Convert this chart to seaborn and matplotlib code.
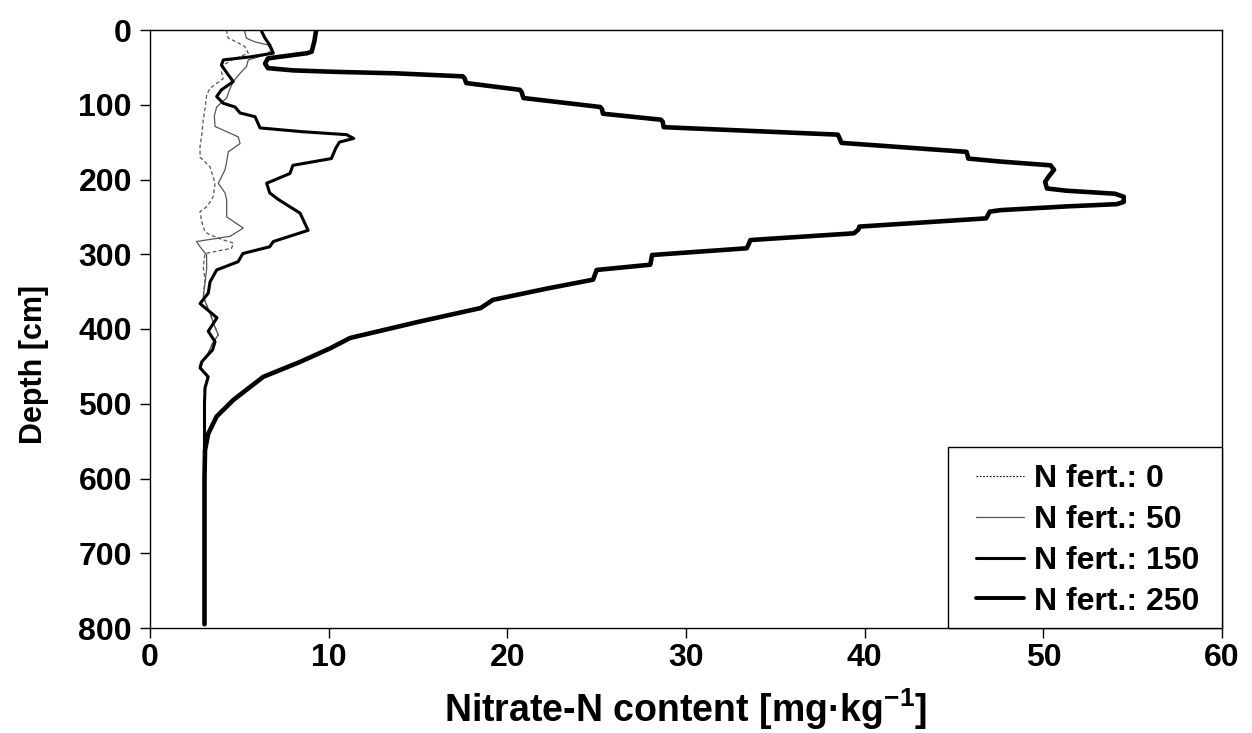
import matplotlib
matplotlib.use("Agg")
import matplotlib.pyplot as plt
import seaborn as sns
import pandas as pd
from matplotlib.lines import Line2D
from matplotlib.patches import Rectangle

# ---------------- data ----------------
labels = ["N fert.: 0", "N fert.: 50", "N fert.: 150", "N fert.: 250"]

depth0 = [0, 2, 11, 16, 22, 31, 40, 47, 56, 65, 78, 87, 105, 120, 140, 156, 170, 183, 205, 223,
          236, 243, 257, 270, 274, 280, 285, 292, 299, 317, 334, 357, 379, 395, 408, 419, 430, 444,
          452, 464, 479, 500, 600, 700, 795]
n0 = [4.29, 4.29, 4.38, 4.85, 5.3, 5.5, 4.6, 4.1, 4.0, 4.1, 3.36, 3.17, 3.08, 2.98, 2.9, 2.8, 2.8,
      3.36, 3.64, 3.54, 3.2, 2.8, 2.9, 3.08, 3.36, 4.0, 4.66, 4.57, 3.08, 2.98, 3.08, 2.98, 3.36,
      3.6, 3.82, 3.5, 3.3, 2.95, 2.85, 3.2, 3.05, 3.05, 3.05, 3.05, 3.05]

depth50 = [0, 2, 11, 16, 20, 27, 33, 40, 49, 58, 69, 80, 91, 103, 115, 129, 143, 152, 163, 175,
           187, 205, 218, 227, 250, 265, 276, 283, 290, 301, 320, 334, 357, 379, 395, 408, 419,
           430, 444, 452, 464, 479, 500, 600, 700, 795]
n50 = [5.3, 5.3, 5.4, 5.88, 6.6, 6.8, 6.5, 5.5, 5.4, 5.04, 4.66, 4.45, 4.29, 3.73, 3.6, 3.64, 4.94,
       5.04, 4.38, 4.3, 4.2, 3.82, 4.2, 4.29, 4.29, 5.22, 4.48, 2.6, 2.8, 3.17, 3.17, 3.1, 2.98,
       3.36, 3.6, 3.82, 3.5, 3.3, 2.95, 2.85, 3.2, 3.05, 3.05, 3.05, 3.05, 3.05]

depth150 = [0, 2, 11, 20, 31, 36, 40, 47, 60, 69, 80, 89, 98, 103, 111, 116, 131, 136, 140, 145,
            150, 158, 172, 181, 192, 205, 218, 227, 245, 268, 283, 290, 299, 310, 321, 337, 352,
            366, 385, 403, 417, 428, 444, 452, 464, 479, 500, 600, 700, 795]
n150 = [6.25, 6.25, 6.44, 6.7, 6.9, 5.6, 4.1, 4.0, 4.38, 4.66, 4.0, 3.73, 4.1, 4.76, 5.04, 5.88,
        6.16, 8.5, 11.0, 11.4, 10.6, 10.4, 10.15, 8.0, 7.83, 6.53, 6.7, 7.2, 8.4, 8.85, 6.9, 6.7,
        5.2, 4.93, 3.73, 3.36, 3.26, 2.8, 3.75, 3.26, 3.64, 3.5, 2.89, 2.8, 3.26, 3.08, 3.05,
        3.05, 3.05, 3.05]

depth250 = [0, 15, 29, 31, 36, 38, 45, 51, 54, 56, 58, 62, 64, 71, 80, 83, 91, 103, 106, 112,
            120, 123, 130, 140, 145, 151, 163, 167, 172, 176, 181, 187, 196, 203, 212, 215, 219,
            223, 230, 233, 236, 241, 243, 252, 263, 267, 272, 281, 287, 292, 301, 308, 314, 321,
            334, 346, 361, 372, 390, 412, 426, 444, 464, 495, 517, 540, 562, 600, 700, 795]
n250 = [9.3, 9.2, 9.05, 8.8, 7.2, 6.6, 6.44, 6.6, 8.0, 10.4, 13.8, 17.5, 17.6, 17.7, 20.7, 20.8,
        20.9, 25.2, 25.3, 25.35, 28.6, 28.7, 28.75, 38.5, 38.6, 38.7, 45.7, 45.75, 45.8, 47.6,
        50.4, 50.6, 50.3, 50.1, 50.2, 51.3, 54.0, 54.5, 54.5, 54.1, 51.3, 47.6, 47.0, 46.8, 39.7,
        39.65, 39.4, 33.6, 33.5, 33.4, 28.1, 28.05, 28.0, 25.0, 24.8, 22.2, 19.2, 18.5, 15.1,
        11.2, 10.07, 8.4, 6.34, 4.66, 3.73, 3.26, 3.08, 3.05, 3.05, 3.05]

x_ticks = [0, 10, 20, 30, 40, 50, 60]
y_ticks = [0, 100, 200, 300, 400, 500, 600, 700, 800]

# ---------------- style ----------------
sns.set_style("ticks")
plt.rcParams['font.family'] = ['Liberation Sans', 'DejaVu Sans']
plt.rcParams['font.weight'] = 'bold'
plt.rcParams['text.color'] = 'black'
plt.rcParams['axes.labelcolor'] = 'black'
plt.rcParams['xtick.color'] = 'black'
plt.rcParams['ytick.color'] = 'black'
plt.rcParams['mathtext.fontset'] = 'custom'
plt.rcParams['mathtext.rm'] = 'Liberation Sans:bold'
plt.rcParams['mathtext.bf'] = 'Liberation Sans:bold'
plt.rcParams['mathtext.it'] = 'Liberation Sans:bold'

W, H = 1252, 733
fig = plt.figure(figsize=(W / 100, H / 100), dpi=100)
ax = fig.add_axes([150 / W, 1 - 628 / H, (1222 - 150) / W, (628 - 30) / H])

series = [
    (labels[0], depth0, n0, "#555555", 0.9, (0, (3, 2))),
    (labels[1], depth50, n50, "#555555", 0.9, "-"),
    (labels[2], depth150, n150, "black", 2.2, "-"),
    (labels[3], depth250, n250, "black", 3.3, "-"),
]

for lab, d, n, col, lw, ls in series:
    df = pd.DataFrame({"depth": d, "nitrate": n})
    sns.lineplot(data=df, x="nitrate", y="depth", ax=ax, sort=False, estimator=None,
                 orient="y", color=col, linewidth=lw, linestyle=ls, legend=False)

ax.set_xlim(0, 60)
ax.set_ylim(800, 0)
ax.set_xticks(x_ticks)
ax.set_yticks(y_ticks)
ax.set_xticklabels([str(v) for v in x_ticks], fontsize=23, fontweight='bold', color='black')
ax.set_yticklabels([str(v) for v in y_ticks], fontsize=23, fontweight='bold', color='black')
ax.tick_params(direction='out', length=7, width=1, colors='black', pad=6)
ax.tick_params(axis='x', pad=4)
for s in ax.spines.values():
    s.set_visible(True)
    s.set_linewidth(1.0)
    s.set_color('black')

ax.set_xlabel(r"Nitrate-N content [mg·kg$^{\mathbf{-1}}$]", fontsize=27, fontweight='bold',
              color='black')
ax.set_ylabel("Depth [cm]", fontsize=22, fontweight='bold', color='black')
ax.xaxis.set_label_coords(0.5, -0.097)
ax.yaxis.set_label_coords(-0.094, 0.44)

# legend frame
x0 = (948 - 150) / 1072
y1 = (628 - 447) / 598
ax.add_patch(Rectangle((x0, 0), 1 - x0, y1, transform=ax.transAxes, facecolor='white',
                       edgecolor='black', linewidth=1.0, zorder=5, clip_on=False))

handles = [
    Line2D([], [], color='black', linewidth=0.8, linestyle=(0, (1.5, 1.5))),
    Line2D([], [], color='#555555', linewidth=0.9),
    Line2D([], [], color='black', linewidth=2.2),
    Line2D([], [], color='black', linewidth=2.8),
]
leg = ax.legend(handles, labels, loc='upper left',
                bbox_to_anchor=((976 - 150) / 1072, (628 - 464) / 598),
                frameon=False, borderpad=0, borderaxespad=0, handlelength=1.5,
                handletextpad=0.3, labelspacing=0.34,
                prop={'family': 'Liberation Sans', 'weight': 'bold', 'size': 23})
leg.set_zorder(6)
for t in leg.get_texts():
    t.set_color('black')

fig.savefig("out.png", dpi=100)
